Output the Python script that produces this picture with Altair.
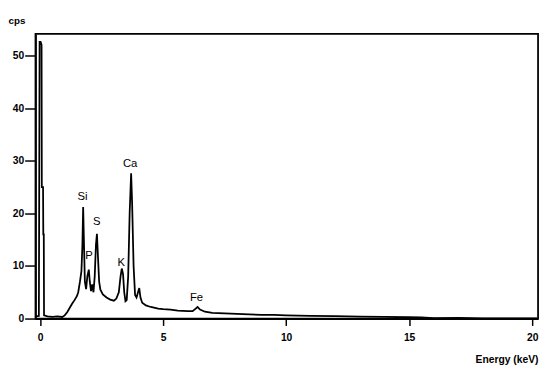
import altair as alt
import pandas as pd

# Spectrum (energy in keV, counts per second)
energy = [-0.19, -0.05, -0.02, 0.02, 0.06, 0.07, 0.12, 0.13, 0.15, 0.16, 0.3, 0.5, 0.7, 0.9,
          1.0, 1.1, 1.2, 1.3, 1.4, 1.5, 1.55, 1.62, 1.68, 1.72, 1.75, 1.78, 1.82, 1.87, 1.92,
          1.98, 2.02, 2.07, 2.12, 2.17, 2.22, 2.27, 2.31, 2.35, 2.4, 2.45, 2.55, 2.7, 2.85,
          3.0, 3.1, 3.2, 3.27, 3.32, 3.37, 3.42, 3.47, 3.52, 3.58, 3.64, 3.7, 3.74, 3.8,
          3.86, 3.92, 3.98, 4.03, 4.08, 4.15, 4.3, 4.5, 4.8, 5.0, 5.3, 5.6, 6.0, 6.2, 6.3,
          6.4, 6.5, 6.7, 7.0, 7.5, 8.0, 8.5, 9.0, 9.5, 10.0, 11.0, 12.0, 13.0, 14.0, 15.0,
          15.5, 16.0, 17.0, 18.0, 19.0, 20.0, 20.2]
cps = [0.4, 0.5, 52.6, 52.6, 52.0, 25.0, 25.0, 16.0, 16.0, 0.6, 0.4, 0.3, 0.4, 0.3,
       0.6, 1.2, 2.0, 2.8, 3.5, 4.3, 5.0, 7.0, 9.0, 14.0, 21.2, 15.0, 7.0, 5.6, 8.0,
       9.3, 7.0, 5.2, 6.5, 5.0, 8.0, 14.0, 16.1, 12.0, 7.0, 5.5, 4.6, 4.0, 3.6,
       3.4, 3.8, 5.0, 8.0, 9.5, 8.5, 5.0, 3.3, 3.5, 8.0, 20.0, 27.6, 22.0, 10.0,
       4.5, 4.0, 5.0, 5.8, 4.0, 3.0, 2.5, 2.2, 1.9, 1.8, 1.7, 1.5, 1.4, 1.4, 1.8,
       2.2, 1.7, 1.3, 1.1, 1.0, 0.9, 0.8, 0.7, 0.7, 0.6, 0.5, 0.45, 0.35, 0.3, 0.25,
       0.2, 0.1, 0.15, 0.05, 0.05, 0.05, 0.05]

# Element labels
elements = ["Si", "P", "S", "K", "Ca", "Fe"]
element_x = [1.72, 1.99, 2.3, 3.3, 3.66, 6.36]
element_y = [23.1, 11.9, 18.3, 10.6, 29.3, 3.9]

# Axis ticks
x_major = [0, 5, 10, 15, 20]
y_major = [0, 10, 20, 30, 40, 50]

W, H = 512, 290

spec = pd.DataFrame({"energy": energy, "cps": cps})
lab = pd.DataFrame({"el": elements, "energy": element_x, "cps": element_y})

xs = alt.Scale(domain=[-0.1875, 20.24], nice=False, zero=False)
ys = alt.Scale(domain=[0, 54.1], nice=False, zero=False)
FONT = "Liberation Sans"

xa = alt.Axis(orient="bottom", values=x_major, tickSize=7, labelPadding=7,
              grid=False, labelFont=FONT, labelFontSize=10.5, labelColor="black",
              labelFontWeight="bold", title="Energy (keV)", titleX=W, titleY=45,
              titleAlign="right", titleBaseline="alphabetic", titleFont=FONT,
              titleFontSize=10.5, titleFontWeight="bold", domainColor="black",
              domainWidth=1.8, tickColor="black", tickWidth=1.5)
ya = alt.Axis(orient="left", values=y_major, tickSize=11, labelPadding=1,
              grid=False, labelFont=FONT, labelFontSize=10.5, labelColor="black",
              labelFontWeight="bold", title="cps", titleAngle=0, titleX=-28, titleY=-14,
              titleAlign="left", titleBaseline="middle", titleFont=FONT,
              titleFontSize=10, titleFontWeight="bold", domainColor="black",
              domainWidth=1.8, tickColor="black", tickWidth=1.5)

line = alt.Chart(spec).mark_line(color="black", strokeWidth=1.8).encode(
    x=alt.X("energy:Q", scale=xs, axis=xa), y=alt.Y("cps:Q", scale=ys, axis=ya))

text = alt.Chart(lab).mark_text(font=FONT, fontSize=11.5).encode(
    x=alt.X("energy:Q", scale=xs, axis=xa), y=alt.Y("cps:Q", scale=ys, axis=ya),
    text="el:N")

chart = alt.layer(line, text).properties(
    width=W, height=H,
    padding={"left": 0, "top": 4, "right": 0, "bottom": 0},
).configure_view(stroke="black", strokeWidth=1.8)

chart.save("out.html", embed_options={"renderer": "svg", "actions": False})
